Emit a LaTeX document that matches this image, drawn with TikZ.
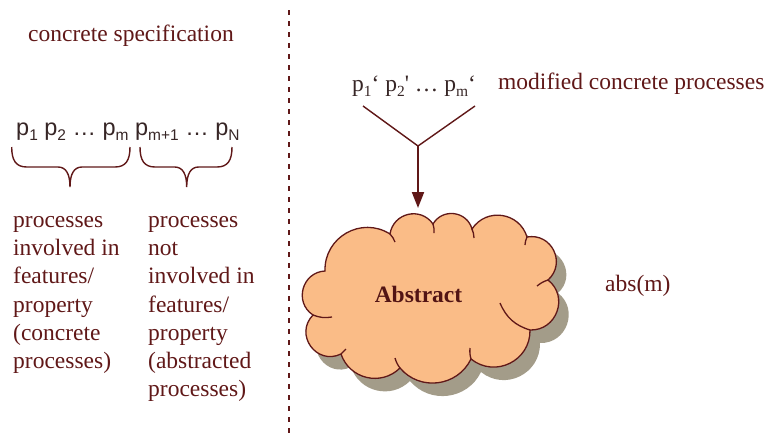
\documentclass[tikz,border=0pt]{standalone}
\usepackage{fontspec}
\setmainfont{Liberation Serif}
\newfontfamily\psans{Liberation Sans}
\usetikzlibrary{arrows.meta}
\definecolor{mar}{RGB}{96,24,24}
\definecolor{darkp}{RGB}{55,38,38}
\definecolor{cloudfill}{RGB}{250,188,135}
\definecolor{shadowc}{RGB}{163,156,137}
\newcommand\mysub[1]{\raisebox{-0.22em}{\fontsize{15.5}{15.5}\selectfont #1}}
\newcommand\drawbrace[3]{%
  \draw[brc] (#1,147) .. controls (#1,160) and (#1+4,167) .. (#1+15,167)
    -- (#2-12,167) .. controls (#2-4,167) and (#2,174) .. (#2,187)
    .. controls (#2,174) and (#2+4,167) .. (#2+12,167)
    -- (#3-15,167) .. controls (#3-4,167) and (#3,160) .. (#3,147);}
\begin{document}
\begin{tikzpicture}[x=1pt,y=-1pt,
  txt/.style={inner sep=0pt, text=mar, font=\fontsize{23.5}{28.2}\selectfont},
  ptxt/.style={inner sep=0pt, text=darkp, font=\psans\fontsize{23.5}{28}\selectfont},
  dtxt/.style={inner sep=0pt, text=darkp, font=\fontsize{23.5}{28.2}\selectfont},
  brc/.style={draw=mar, line width=1.4pt},
  conn/.style={draw=mar, line width=1.4pt},
  arr/.style={draw=mar, line width=2pt, -{Triangle[length=16pt,width=12pt]}},
  sep/.style={draw=mar, line width=2pt, dash pattern=on 5pt off 6pt},
  cloudline/.style={draw=mar, line width=1.3pt},
  tick/.style={draw=mar, line width=1.3pt},
  cloudpath/.style={insert path={
     (J1) to[bend left=62, looseness=1.16] (J2)
     to[bend left=68, looseness=1.25] (J3)
     to[bend left=67, looseness=1.22] (J4)
     to[bend left=65, looseness=1.2] (J5)
     to[bend left=74, looseness=1.34] (J6)
     to[bend left=72, looseness=1.29] (J7)
     to[bend left=65, looseness=1.2] (J8)
     to[bend left=57, looseness=1.1] (J9)
     to[bend left=58, looseness=1.12] (J10)
     to[bend left=80, looseness=1.45] (J11)
     to[bend left=72, looseness=1.29] (J1) -- cycle}}
]
\useasboundingbox (0,0) rectangle (769,437);
% separator
\coordinate (dtop) at (289,10);
\coordinate (dbot) at (289,436);
\draw[sep] (dtop) -- (dbot);
% left side
\node[txt, anchor=base west] (spec) at (28,41.5) {concrete specification};
\node[ptxt, anchor=base west] (plist) at (16,135)
  {p\mysub{1} p\mysub{2} … p\mysub{m} p\mysub{m+1} … p\mysub{N}};
\drawbrace{11.7}{70}{130}
\drawbrace{140}{186.7}{232}
\node[txt, anchor=north west, align=left] (col1) at (13,227.3-19.74)
  {\strut processes\\involved in\\features/\\property\\(concrete\\processes)};
\node[txt, anchor=north west, align=left] (col2) at (148,227.3-19.74)
  {\strut processes\\not\\involved in\\features/\\property\\(abstracted\\processes)};
% right side
\node[dtxt, anchor=base west] (pmod) at (352,91.5)
  {p\mysub{1}‘ p\mysub{2}\textquotesingle{} … p\mysub{m}‘};
\node[txt, anchor=base west] (mod) at (498,89) {modified concrete processes};
\coordinate (vl) at (363,106);
\coordinate (vr) at (475,106);
\coordinate (vj) at (418,146);
\coordinate (tip) at (418,208);
\draw[conn] (vl) -- (vj) -- (vr);
\draw[arr] (vj) -- (tip);
% cloud
\coordinate (J1) at (325,271);
\coordinate (J2) at (390,234);
\coordinate (J3) at (433,224);
\coordinate (J4) at (472,229);
\coordinate (J5) at (527,237);
\coordinate (J6) at (548,280);
\coordinate (J7) at (530,330);
\coordinate (J8) at (471,359);
\coordinate (J9) at (400,368);
\coordinate (J10) at (341,354);
\coordinate (J11) at (313,315);
\path[fill=shadowc, transform canvas={shift={(10,13)}}, cloudpath];
\path[fill=cloudfill, cloudline, cloudpath];
\draw[tick] (J2) to[bend left=10] (395,242);
\draw[tick] (J3) to[bend left=10] (434,233);
\draw[tick] (J4) to[bend left=10] (474,238);
\draw[tick] (J5) to[bend right=10] (525,245);
\draw[tick] (J6) to[bend right=10] (537,286);
\draw[tick] (J7) to[bend left=25] (500,303);
\draw[tick] (J8) to[bend left=10] (470,348);
\draw[tick] (J9) to[bend left=10] (395,358);
\draw[tick] (J10) to[bend left=10] (346,349);
\draw[tick] (J11) to[bend right=15] (332,317);
\node[txt, font=\bfseries\fontsize{23.5}{28.2}\selectfont, text=mar!85!black] (abstr) at (418.5,294) {Abstract};
\node[txt, anchor=base west] (absm) at (605,291.5) {abs(m)};
\end{tikzpicture}
\end{document}
